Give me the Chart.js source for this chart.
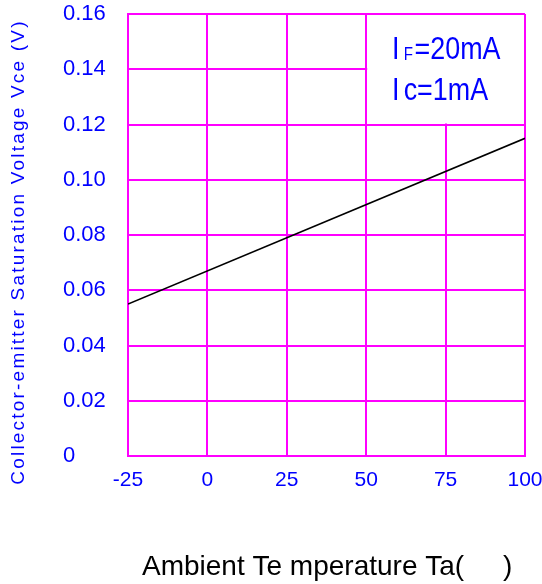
<!DOCTYPE html>
<html>
<head>
<meta charset="utf-8">
<script src="https://cdn.jsdelivr.net/npm/chart.js@4.4.1/dist/chart.umd.min.js"></script>
<style>
html,body{margin:0;padding:0;background:#fff;}
#wrap{width:542px;height:584px;position:relative;}
</style>
</head>
<body>
<div id="wrap"><canvas id="c" width="542" height="584"></canvas></div>
<script>
// ---- data ----
const temperature = [-25, 100];           // Ta (°C)
const vceSat = [0.055, 0.115];            // Vce(sat) (V)
const xTicks = [-25, 0, 25, 50, 75, 100];
const yTicks = [0, 0.02, 0.04, 0.06, 0.08, 0.10, 0.12, 0.14, 0.16];
const yTickLabels = ['0', '0.02', '0.04', '0.06', '0.08', '0.10', '0.12', '0.14', '0.16'];
const yTitle = 'Collector-emitter Saturation Voltage Vce (V)';
const xTitle = 'Ambient Te mperature Ta(     )';
const noteLines = [['I', 'F', '=20mA'], ['I', '', 'c=1mA']];

const MAG = '#ff00ff';
const BLUE = '#0000ff';
const FONT = 'Arial, "Liberation Sans", sans-serif';

const points = temperature.map((t, i) => ({x: t, y: vceSat[i]}));

const annot = {
  id: 'annot',
  beforeDatasetsDraw(chart) {
    const {ctx, scales: {x, y}} = chart;
    const l = x.getPixelForValue(50) + 1, r = x.getPixelForValue(100) - 1;
    const t = y.getPixelForValue(0.16) + 1, b = y.getPixelForValue(0.12) - 1;
    ctx.save();
    ctx.fillStyle = '#fff';
    ctx.fillRect(l, t, r - l, b - t);
    ctx.restore();
  },
  afterDraw(chart) {
    const {ctx} = chart;
    ctx.save();
    // legend note (condensed lettering)
    ctx.fillStyle = BLUE;
    ctx.textBaseline = 'alphabetic';
    ctx.textAlign = 'left';
    const base = [58.5, 100];
    const sx = 0.84;
    noteLines.forEach((ln, i) => {
      ctx.save();
      ctx.translate(392, base[i]);
      ctx.scale(sx, 1);
      let xx = 0;
      ctx.font = '32px ' + FONT;
      ctx.fillText(ln[0], xx, 0);
      xx += ctx.measureText(ln[0]).width + 5;
      if (ln[1]) {
        ctx.font = '18px ' + FONT;
        ctx.fillText(ln[1], xx, 1);
        xx += ctx.measureText(ln[1]).width + 2;
      }
      ctx.font = '32px ' + FONT;
      ctx.fillText(ln[2], xx, 0);
      ctx.restore();
    });
    // y title
    ctx.translate(19, 252);
    ctx.rotate(-Math.PI / 2);
    ctx.font = '19px ' + FONT;
    ctx.letterSpacing = '2.2px';
    ctx.textAlign = 'center';
    ctx.textBaseline = 'middle';
    ctx.fillStyle = BLUE;
    ctx.fillText(yTitle, 0, 0);
    ctx.restore();
    // x title
    ctx.save();
    ctx.font = '28px ' + FONT;
    ctx.fillStyle = '#000';
    ctx.textAlign = 'left';
    ctx.textBaseline = 'alphabetic';
    ctx.fillText(xTitle, 142, 575);
    ctx.restore();
  }
};

new Chart(document.getElementById('c'), {
  type: 'scatter',
  data: {
    datasets: [{
      data: points,
      showLine: true,
      borderColor: '#000',
      borderWidth: 1.6,
      pointRadius: 0,
      fill: false
    }]
  },
  options: {
    responsive: false,
    animation: false,
    events: [],
    layout: {padding: {left: 63, top: 14, right: 17, bottom: 0}},
    plugins: {legend: {display: false}, tooltip: {enabled: false}, title: {display: false}},
    scales: {
      x: {
        type: 'linear',
        min: -25, max: 100,
        afterBuildTicks: s => { s.ticks = xTicks.map(v => ({value: v})); },
        afterFit: s => { s.height = 128; s.paddingLeft = 0; s.paddingRight = 0; },
        grid: {color: MAG, lineWidth: 2, drawTicks: false},
        border: {color: MAG, width: 2},
        ticks: {color: BLUE, font: {family: FONT, size: 21}, padding: 12, maxRotation: 0,
                callback: v => String(v)}
      },
      y: {
        type: 'linear',
        min: 0, max: 0.16,
        afterBuildTicks: s => { s.ticks = yTicks.map(v => ({value: v})); },
        afterFit: s => { s.width = 65; s.paddingTop = 0; s.paddingBottom = 0; },
        grid: {color: MAG, lineWidth: 2, drawTicks: false},
        border: {color: MAG, width: 2},
        ticks: {color: BLUE, font: {family: FONT, size: 22}, crossAlign: 'far', padding: 0,
                callback: (v, i) => yTickLabels[i]}
      }
    }
  },
  plugins: [annot]
});
</script>
</body>
</html>
